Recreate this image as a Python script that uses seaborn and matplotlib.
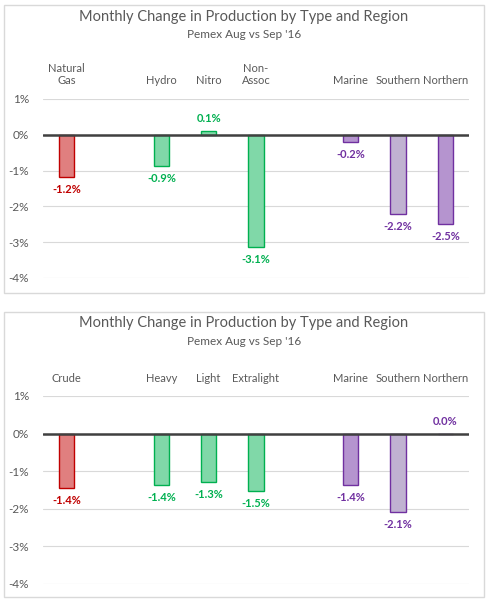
import numpy as np
import pandas as pd
import seaborn as sns
import matplotlib.pyplot as plt
from matplotlib.patches import Rectangle

sns.set_theme(style="white")
plt.rcParams['font.family'] = ['Lato', 'DejaVu Sans']

TITLE = "Monthly Change in Production by Type and Region"
SUBTITLE = "Pemex Aug vs Sep '16"

# panel 1: production by type
labels_top = ["Natural\nGas", "", "Hydro", "Nitro", "Non-\nAssoc", "", "Marine", "Southern", "Northern"]
change_top = [-1.17, np.nan, -0.87, 0.1, -3.14, np.nan, -0.2, -2.21, -2.49]
groups_top = ["gas", None, "liq", "liq", "liq", None, "reg", "reg2", "reg"]

# panel 2: crude by quality and region
labels_bot = ["Crude", "", "Heavy", "Light", "Extralight", "", "Marine", "Southern", "Northern"]
change_bot = [-1.44, np.nan, -1.36, -1.29, -1.53, np.nan, -1.36, -2.09, 0.0]
groups_bot = ["gas", None, "liq", "liq", "liq", None, "reg", "reg2", "reg"]

yticks = [-4, -3, -2, -1, 0, 1]

fills = {"gas": "#E07F7F", "liq": "#80D8A8", "reg": "#B594CF", "reg2": "#C0B2D1"}
edges = {"gas": "#C00000", "liq": "#00B050", "reg": "#7030A0", "reg2": "#7030A0"}
GRAY = "#595959"

W, H = 491, 606
fig = plt.figure(figsize=(W / 100, H / 100), dpi=100)


def px_box(x0, y0, x1, y1):
    # pixel box (top-left origin) -> figure fraction [l, b, w, h]
    return [x0 / W, 1 - y1 / H, (x1 - x0) / W, (y1 - y0) / H]


def draw_panel(ax, labels, values, groups):
    keys = [f"c{i}" for i in range(len(labels))]
    df = pd.DataFrame({"cat": keys, "val": values})
    sns.barplot(data=df.dropna(), x="cat", y="val", order=keys, width=0.32,
                color="#cccccc", ax=ax, zorder=2)
    for p in ax.patches:
        i = int(round(p.get_x() + p.get_width() / 2))
        g = groups[i]
        p.set_facecolor(fills[g])
        p.set_edgecolor(edges[g])
        p.set_linewidth(1.0)
    for i, v in enumerate(values):
        if np.isnan(v):
            continue
        off = 9 if v >= 0 else -9
        ax.annotate(f"{v:.1f}%", (i, v), xytext=(0, off), textcoords="offset points",
                    ha="center", va="center", fontsize=8, fontweight="bold",
                    color=edges[groups[i]])
    ax.axhline(0, color="#404040", lw=1.8, zorder=3)
    ax.set_ylim(-4, 1)
    ax.set_xlim(-0.5, len(labels) - 0.5)
    ax.set_yticks(yticks)
    ax.set_yticklabels([f"{t}%" for t in yticks])
    ax.yaxis.grid(True, color="#D9D9D9", lw=0.8)
    ax.set_axisbelow(True)
    ax.xaxis.tick_top()
    ax.set_xticks(range(len(labels)))
    ax.set_xticklabels(labels)
    ax.tick_params(axis="x", length=0, pad=9, labelsize=8, labelcolor=GRAY)
    ax.tick_params(axis="y", length=0, pad=10, labelsize=8.5, labelcolor=GRAY)
    ax.set_xlabel("")
    ax.set_ylabel("")
    for s in ax.spines.values():
        s.set_visible(False)
    ax.patch.set_alpha(0)


# panel frames
for y0, y1 in [(5, 293), (312, 597)]:
    fig.add_artist(Rectangle((4 / W, 1 - y1 / H), 480 / W, (y1 - y0) / H,
                             transform=fig.transFigure, fill=False,
                             edgecolor="#D9D9D9", lw=1))

ax1 = fig.add_axes(px_box(43, 99, 469, 278))
draw_panel(ax1, labels_top, change_top, groups_top)
ax2 = fig.add_axes(px_box(43, 396, 469, 584))
draw_panel(ax2, labels_bot, change_bot, groups_bot)

for ty, sy in [(17, 35), (323, 342)]:
    fig.text(244 / W, 1 - ty / H, TITLE, ha="center", va="center",
             fontsize=10.5, color=GRAY)
    fig.text(244 / W, 1 - sy / H, SUBTITLE, ha="center", va="center",
             fontsize=8.5, color=GRAY)

fig.savefig("out.png", dpi=100)
